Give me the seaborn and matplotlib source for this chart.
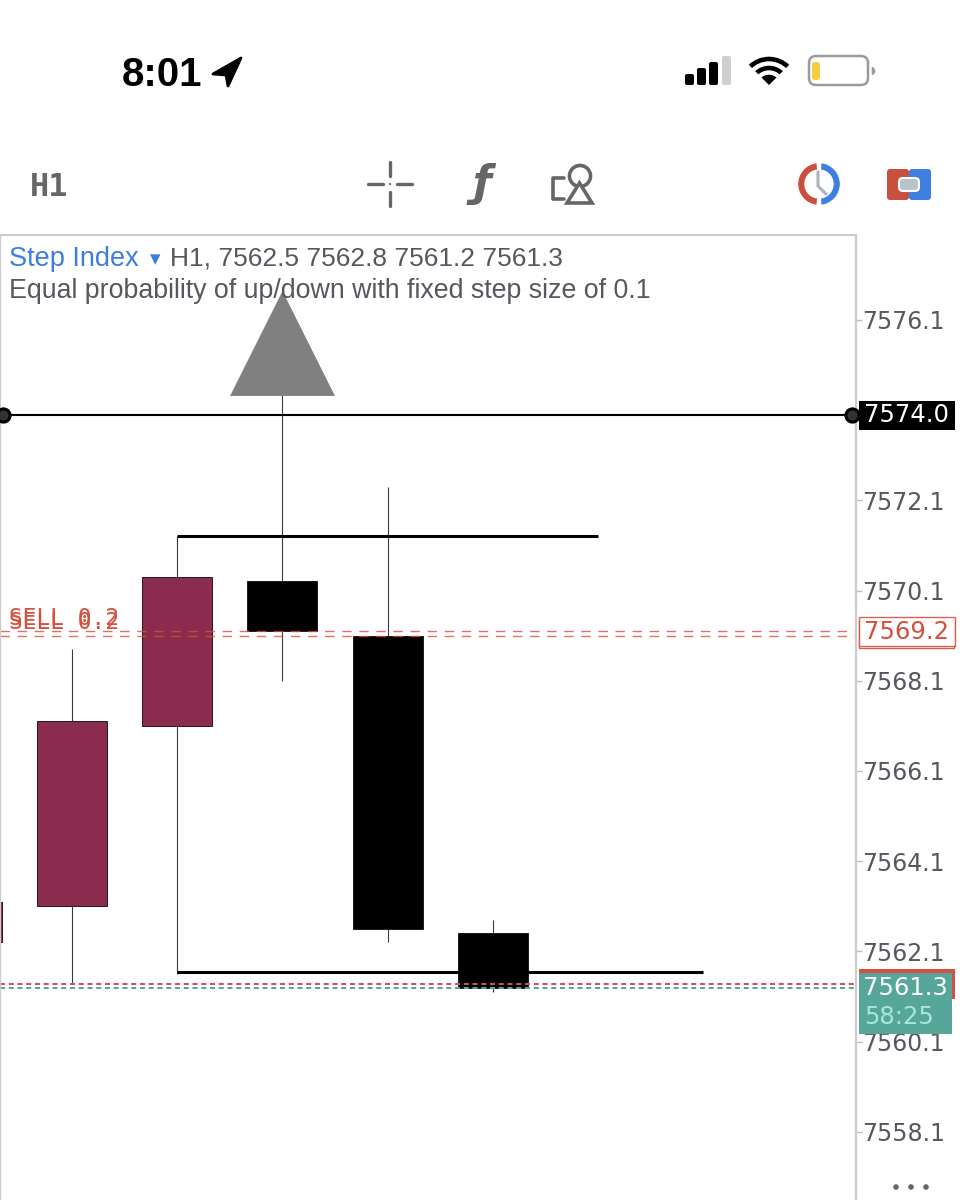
import pandas as pd
import matplotlib
matplotlib.use('Agg')
import matplotlib.pyplot as plt
from matplotlib.patches import Rectangle, Polygon, Wedge, Circle, FancyBboxPatch
import seaborn as sns

# candles, oldest first
candle_x = [-1, 0, 1, 2, 3, 4]
body_top = [7563.2, 7567.2, 7570.4, 7570.3, 7569.1, 7562.5]
body_low = [7562.3, 7563.1, 7567.1, 7569.2, 7562.6, 7561.3]
wick_high = [7563.2, 7568.8, 7571.3, 7575.0, 7572.4, 7562.8]
wick_low = [7562.3, 7561.4, 7561.6, 7568.1, 7562.3, 7561.2]
candle_kind = ['bear', 'bear', 'bear', 'bull', 'bull', 'bull']

price_ticks = [7576.1, 7572.1, 7570.1, 7568.1, 7566.1, 7564.1, 7562.1, 7560.1, 7558.1]
level_price = 7574.0
top_range = 7571.3
bottom_range = 7561.65
sell_prices = [7569.2, 7569.1]
bid_price = 7561.38
ask_price = 7561.29
arrow_x = [2]
arrow_y = [7575.59]

GREY = '#55585e'
RED = '#d4503f'
TEAL = '#56a79a'
MAROON = '#8b2c4f'

sns.set_theme(style='white')
plt.rcParams['font.family'] = ['Liberation Sans', 'DejaVu Sans']

W, H = 964, 1200
fig = plt.figure(figsize=(W / 100, H / 100), dpi=100, facecolor='white')
ax = fig.add_axes([0, 0, 856 / W, 965 / H])

df = pd.DataFrame({'x': candle_x, 'height': [t - b for t, b in zip(body_top, body_low)],
                   'low': body_low, 'kind': candle_kind})
ax.vlines(candle_x, wick_low, wick_high, color='#3a3a3a', lw=0.8, zorder=0.5)
for kind, col in [('bear', MAROON), ('bull', 'black')]:
    sub = df[df['kind'] == kind]
    sns.barplot(data=sub, x='x', y='height', bottom=sub['low'].values, native_scale=True,
                color=col, saturation=1, width=0.665, errorbar=None,
                edgecolor='#2a1520', linewidth=0.7, ax=ax)

ax.set_xlim(-0.684, 7.449)
ax.set_ylim(7556.59, 7577.98)
ax.set_xlabel('')
ax.set_ylabel('')
ax.set_xticks([])
ax.yaxis.tick_right()
ax.set_yticks(price_ticks)
ax.set_yticklabels([f'{p:.1f}' for p in price_ticks], family='DejaVu Sans', fontsize=17, color=GREY)
ax.tick_params(axis='y', right=True, length=4.5, width=1, color='#bbbbbb', pad=0)
for name, spine in ax.spines.items():
    spine.set_color('#cccccc')
    spine.set_linewidth(1.6)
ax.spines['bottom'].set_visible(False)

# drawn levels
ax.hlines(level_price, -0.684, 7.449, color='black', lw=1.5, zorder=3)
ax.hlines(top_range, 1, 5, color='black', lw=2.2, zorder=3)
ax.hlines(bottom_range, 1, 6, color='black', lw=2.2, zorder=3)
trans = ax.get_yaxis_transform()
ax.plot([0.003, 0.995], [level_price, level_price], transform=trans, ls='none', marker='o', ms=9.5,
        mfc='#333333', mec='black', mew=2.2, clip_on=False, zorder=4)
for p in sell_prices:
    ax.axhline(p, color=RED, lw=1, alpha=0.8, dashes=(6.8, 5.5), zorder=2.5)
ax.axhline(bid_price, color='#cf4f5f', lw=1.5, dashes=(2.4, 1.8), zorder=2.5)
ax.axhline(ask_price, color=TEAL, lw=1.5, dashes=(2.4, 1.8), zorder=2.5)
sns.scatterplot(x=arrow_x, y=arrow_y, marker='^', s=5700, color='#808080', linewidth=0, ax=ax, zorder=5, legend=False)

for price in [7569.25, 7569.34]:
    ax.annotate('SELL 0.2', xy=(9, price), xycoords=('figure pixels', 'data'),
                family='DejaVu Sans Mono', fontsize=16.4, color=RED, va='baseline', ha='left', zorder=6)

# everything around the chart, in pixel coordinates
ui = fig.add_axes([0, 0, 1, 1])
ui.set_xlim(0, W)
ui.set_ylim(H, 0)
ui.axis('off')
ui.patch.set_alpha(0)


def to_py(price):
    return H - ax.transData.transform((0, price))[1]


# status bar
ui.text(122, 86, '8:01', fontsize=29, fontweight='bold', color='black', va='baseline', ha='left')
ui.add_patch(Polygon([(241, 58), (213, 74), (226, 75), (228, 86)], closed=True, fc='black', ec='black', lw=2, joinstyle='round'))
for bx, top, col in [(685, 74, 'black'), (697, 68, 'black'), (709, 62, 'black'), (722, 56, '#cfcfcf')]:
    ui.add_patch(FancyBboxPatch((bx, top), 9, 85 - top, boxstyle='round,pad=0,rounding_size=2', fc=col, ec='none'))
ui.add_patch(Wedge((769, 86), 30, 225, 315, width=6, fc='black'))
ui.add_patch(Wedge((769, 86), 21, 225, 315, width=6, fc='black'))
ui.add_patch(Wedge((769, 86), 12, 225, 315, fc='black'))
ui.add_patch(FancyBboxPatch((809, 56), 59, 29, boxstyle='round,pad=0,rounding_size=7', fc='white', ec='#9a9a9a', lw=1.8))
ui.add_patch(FancyBboxPatch((812, 62), 8, 18, boxstyle='round,pad=0,rounding_size=3', fc='#f2cf3c', ec='none'))
ui.add_patch(Wedge((871, 71), 5, 270, 90, fc='#9a9a9a'))

# toolbar
ui.text(30, 196, 'H1', family='DejaVu Sans Mono', fontsize=23, fontweight='bold', color='#666666', va='baseline', ha='left')
for seg in [((390, 162), (390, 176)), ((390, 192), (390, 206)), ((368, 184), (383, 184)), ((397, 184), (412, 184))]:
    ui.plot(*zip(*seg), color='#666666', lw=2.4, solid_capstyle='round')
ui.add_patch(Circle((390, 184), 1.8, fc='#666666'))
ui.text(482, 184, 'ƒ', family='DejaVu Sans', style='italic', fontweight='bold', fontsize=31, color='#666666', ha='center', va='center')
ui.add_patch(Circle((580, 176), 10.5, fc='none', ec='#666666', lw=2.6))
ui.add_patch(Polygon([(579.5, 183), (567, 203), (592, 203)], closed=True, fc='white', ec='#666666', lw=2.6))
ui.plot([564, 553, 553, 564], [178, 178, 199, 199], color='#666666', lw=2.6)
ui.add_patch(Wedge((819, 184), 21.5, 95, 265, width=7.5, fc='#c9503f'))
ui.add_patch(Wedge((819, 184), 21.5, -85, 85, width=7.5, fc='#3f7fe0'))
ui.plot([818, 818, 826], [172, 186, 194], color='#aab2ba', lw=2.2)
ui.add_patch(FancyBboxPatch((887, 169), 22, 31, boxstyle='round,pad=0,rounding_size=3', fc='#c9503f', ec='none'))
ui.add_patch(FancyBboxPatch((909, 169), 22, 31, boxstyle='round,pad=0,rounding_size=3', fc='#3f7fe0', ec='none'))
ui.add_patch(FancyBboxPatch((899, 178), 20, 13, boxstyle='round,pad=0,rounding_size=4', fc='#b8c4cc', ec='white', lw=1.5))

# header text
ui.text(9, 258.5, 'Step Index', fontsize=19.5, color='#3b7de0', va='center', ha='left')
ui.text(155, 259, '▾', family='DejaVu Sans', fontsize=15, color='#3b7de0', va='center', ha='center')
ui.text(170, 258.5, 'H1, 7562.5 7562.8 7561.2 7561.3', fontsize=19, color=GREY, va='center', ha='left')
ui.text(9, 290.5, 'Equal probability of up/down with fixed step size of 0.1', fontsize=19.25, color=GREY, va='center', ha='left')

# price labels
py = to_py(level_price)
ui.add_patch(Rectangle((859, py - 14), 96, 29, fc='black', ec='none'))
ui.text(907, py + 0.5, f'{level_price:.1f}', family='DejaVu Sans', fontsize=17.5, color='white', ha='center', va='center')

py = to_py(sell_prices[0])
ui.add_patch(Rectangle((859, py - 10), 95, 27, fc='white', ec=RED, lw=1, alpha=0.9))
ui.add_patch(Rectangle((859, py - 14), 96, 29, fc='white', ec=RED, lw=1, alpha=0.9))
ui.text(907, py + 0.5, f'{sell_prices[0]:.1f}', family='DejaVu Sans', fontsize=17.5, color=RED, ha='center', va='center')

py = to_py(ask_price)
ui.add_patch(Rectangle((859, py - 19), 96, 30, fc=RED, ec='none'))
ui.add_patch(Rectangle((859, py - 15), 93, 61, fc=TEAL, ec='none'))
ui.text(905.5, py + 0.5, '7561.3', family='DejaVu Sans', fontsize=17.5, color='white', ha='center', va='center')
ui.text(864, py + 29, '58:25', family='DejaVu Sans', fontsize=17.5, color='#a8e6d8', ha='left', va='center')

# overflow dots
for dot_x in [896, 911, 926]:
    ui.add_patch(Circle((dot_x, 1187), 3.5, fc='#666666'))

fig.savefig('out.png', dpi=100)
